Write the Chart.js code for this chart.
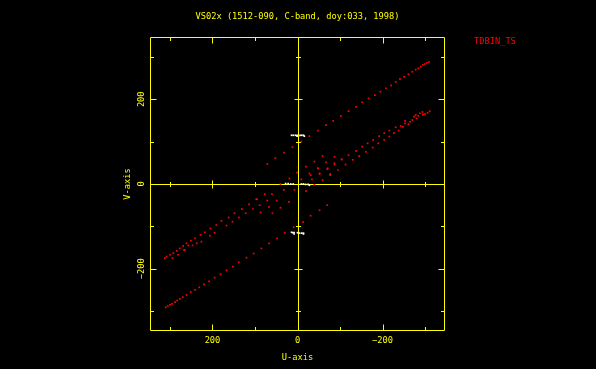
<!DOCTYPE html>
<html>
<head>
<meta charset="utf-8">
<script src="https://cdn.jsdelivr.net/npm/chart.js@4/dist/chart.umd.min.js"></script>
<style>
  html, body { margin: 0; padding: 0; background: #000; }
  #wrap { width: 596px; height: 369px; }
</style>
</head>
<body>
<div id="wrap"><canvas id="c" width="596" height="369"></canvas></div>
<script>
// ---- Data ----
const chartTitle = 'VS02x (1512-090, C-band, doy:033, 1998)';
const seriesName = 'TDBIN_TS';
const xTitle = 'U-axis';
const yTitle = 'V-axis';

// offset track (upper right) and its conjugate (lower left)
const lineU = [-309,-304,-300,-295,-290,-284,-278,-270,-261,-251,-241,-231,-220,-208,-195,-182,-167,-152,-138,-120,-102,-84,-67,-48,-28,-9,12,32,52,71];
const lineV = [288,286,283,281,277,273,270,265,259,253,248,241,233,226,218,210,202,193,182,172,161,149,139,126,113,100,87,74,61,47];
const lineConjU = [310,305,300,295,288,283,277,270,261,251,241,231,220,208,195,181,167,152,138,120,103,85,67,48,30,9,-13,-31,-52,-70];
const lineConjV = [-291,-288,-285,-283,-279,-275,-271,-267,-262,-255,-250,-244,-237,-230,-221,-213,-204,-195,-185,-174,-164,-152,-140,-128,-115,-102,-90,-75,-62,-50];

// lower band (upper right) and its conjugate (lower left)
const bandU = [-311,-306,-300,-295,-288,-284,-294,-280,-274,-278,-270,-265,-261,-253,-253,-248,-243,-238,-231,-227,-216,-216,-204,-192,-178,-165,-152,-138,-120,-104,-87,-71,-48,-31,-20,-204,-190,-177,-161,-145,-130,-113,-95,-77,-52];
const bandV = [172,168,165,163,167,161,170,155,159,163,151,147,141,143,149,135,137,126,134,120,126,112,120,113,104,96,88,78,68,58,49,37,37,21,41,104,96,86,76,66,57,46,33,24,24];
const bandConjU = [312,308,300,292,284,277,269,261,251,241,228,218,205,191,179,162,148,131,114,97,267,257,237,206,195,167,153,138,122,105,294,281,226,247,265];
const bandConjV = [-175,-171,-167,-163,-158,-152,-146,-140,-134,-128,-120,-114,-105,-97,-87,-79,-69,-59,-48,-36,-156,-145,-140,-122,-115,-98,-89,-79,-69,-59,-175,-167,-136,-145,-156];

// scattered short baselines near the centre
const coreU = [-59,-87,-104,-40,-67,-87,-48,-70,-28,-52,-77,1,-9,-34,-59,-40,-20,19,7,40,32,77,60,95,71,49,20,89,67,40,87,59];
const coreV = [66,64,58,53,51,46,37,35,25,25,21,27,11,11,9,-2,-17,13,-14,0,-14,-24,-24,-36,-39,-39,-42,-50,-54,-56,-67,-69];

// white marks
const whiteU = [14,10,5,1,1,-6,-10,-14,-16,28,22,16,10,-9,-14,-19,-25,-28,14,11,8,8,0,-5,-10,-14,-14];
const whiteV = [115,115,115,115,113,115,115,115,113,1,1,0,0,0,0,-1,-1,-3,-114,-115,-115,-118,-115,-116,-116,-116,-118];

// axes
const axisMin = -347, axisMax = 347;
const tickValues = [-300,-200,-100,0,100,200,300];
const labelValues = [-200,0,200];

// ---- build points ----
function pts(us, vs) { return us.map((u, i) => ({ x: u, y: vs[i] })); }
const redPoints = [].concat(
  pts(lineU, lineV), pts(lineConjU, lineConjV),
  pts(bandU, bandV), pts(bandConjU, bandConjV),
  pts(coreU, coreV)
);
const whitePoints = pts(whiteU, whiteV);

const YEL = '#ffff00';
const FONT = '8.7px "DejaVu Sans Mono", "Liberation Mono", monospace';
const fmt = v => (v < 0 ? '\u2212' + Math.abs(v) : String(v));

const decor = {
  id: 'decor',
  beforeDraw(chart) {
    const ctx = chart.ctx;
    ctx.save();
    ctx.fillStyle = '#000';
    ctx.fillRect(0, 0, chart.width, chart.height);
    ctx.restore();
  },
  beforeDatasetsDraw(chart) {
    const ctx = chart.ctx, a = chart.chartArea;
    const xs = chart.scales.x, ys = chart.scales.y;
    const L = Math.round(a.left) + 0.5, R = Math.round(a.right) - 0.5;
    const T = Math.round(a.top) + 0.5, B = Math.round(a.bottom) - 0.5;
    const x0 = Math.round(xs.getPixelForValue(0)) + 0.5;
    const y0 = Math.round(ys.getPixelForValue(0)) + 0.5;
    ctx.save();
    ctx.strokeStyle = YEL;
    ctx.lineWidth = 1;
    ctx.beginPath();
    ctx.rect(L, T, R - L, B - T);
    // zero lines
    ctx.moveTo(L, y0); ctx.lineTo(R, y0);
    ctx.moveTo(x0, T); ctx.lineTo(x0, B);
    tickValues.forEach(v => {
      const major = v % 200 === 0;
      const len = major ? 6 : 3.5;
      const half = major ? 4 : 2.5;
      const px = Math.round(xs.getPixelForValue(v)) + 0.5;
      const py = Math.round(ys.getPixelForValue(v)) + 0.5;
      // frame ticks
      ctx.moveTo(px, B); ctx.lineTo(px, B - len);
      ctx.moveTo(px, T); ctx.lineTo(px, T + len);
      ctx.moveTo(L, py); ctx.lineTo(L + len, py);
      ctx.moveTo(R, py); ctx.lineTo(R - len, py);
      if (v !== 0) {
        ctx.moveTo(px, y0 - half); ctx.lineTo(px, y0 + half);
        ctx.moveTo(x0 - half, py); ctx.lineTo(x0 + half, py);
      }
    });
    ctx.stroke();

    ctx.fillStyle = YEL;
    ctx.font = FONT;
    ctx.textAlign = 'center';
    ctx.textBaseline = 'middle';
    labelValues.forEach(v => {
      ctx.fillText(fmt(v), xs.getPixelForValue(v), a.bottom + 10);
      ctx.save();
      ctx.translate(a.left - 8, ys.getPixelForValue(v));
      ctx.rotate(-Math.PI / 2);
      ctx.fillText(fmt(v), 0, 0);
      ctx.restore();
    });
    // titles
    ctx.fillText(chartTitle, (a.left + a.right) / 2, 17);
    ctx.fillText(xTitle, (a.left + a.right) / 2, a.bottom + 27);
    ctx.save();
    ctx.translate(a.left - 22, (a.top + a.bottom) / 2);
    ctx.rotate(-Math.PI / 2);
    ctx.fillText(yTitle, 0, 0);
    ctx.restore();
    // series name
    ctx.fillStyle = '#ff0000';
    ctx.textAlign = 'left';
    ctx.fillText(chart.data.datasets[0].label, a.right + 29, 42);
    ctx.restore();
  }
};

new Chart(document.getElementById('c'), {
  type: 'scatter',
  data: {
    datasets: [
      { label: seriesName, data: redPoints, backgroundColor: '#ff0000', borderWidth: 0, pointStyle: 'rect', pointRadius: 1.2, pointHoverRadius: 1.2 },
      { label: '', data: whitePoints, backgroundColor: '#ffffff', borderWidth: 0, pointStyle: 'rect', pointRadius: 1.2, pointHoverRadius: 1.2 }
    ]
  },
  options: {
    responsive: false,
    animation: false,
    devicePixelRatio: 1,
    layout: { padding: { left: 150, top: 37, right: 151, bottom: 38 } },
    plugins: { legend: { display: false }, tooltip: { enabled: false }, title: { display: false } },
    scales: {
      x: { type: 'linear', reverse: true, min: axisMin, max: axisMax, display: false },
      y: { type: 'linear', min: axisMin, max: axisMax, display: false }
    }
  },
  plugins: [decor]
});
</script>
</body>
</html>
